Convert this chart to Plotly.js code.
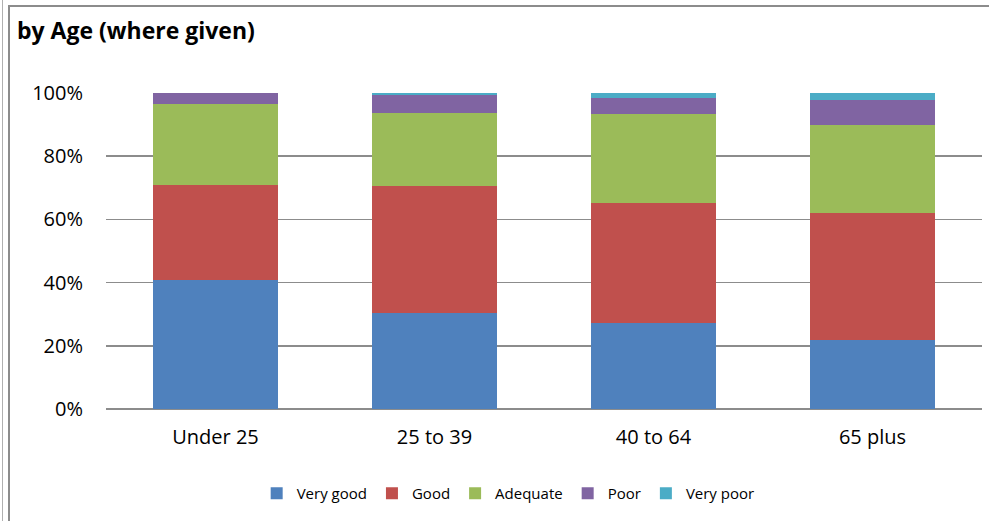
<!DOCTYPE html>
<html>
<head>
<meta charset="utf-8">
<script src="https://cdn.plot.ly/plotly-3.0.1.min.js"></script>
<style>
  html, body { margin: 0; padding: 0; background: #fff; overflow: hidden; }
  #frame { position: absolute; left: 8px; top: 5px; width: 1000px; height: 540px;
           border-left: 2px solid #8c8c8c; border-top: 2px solid #8c8c8c; }
  #edge { position: absolute; left: 2px; top: 0; width: 0; height: 521px; border-left: 1px solid #b0b0b0; }
  #chart { position: absolute; left: 0; top: 0; width: 989px; height: 521px; }
</style>
</head>
<body>
<div id="edge"></div>
<div id="frame"></div>
<div id="chart"></div>
<script>
const ageGroups = ['Under 25', '25 to 39', '40 to 64', '65 plus'];
const veryGood = [40.8, 30.4, 27.2, 21.8];
const good = [30.1, 40.2, 38.0, 40.1];
const adequate = [25.6, 23.2, 28.2, 28.1];
const poor = [3.5, 5.5, 4.9, 7.9];
const veryPoor = [0.0, 0.7, 1.7, 2.1];
const yTicks = [0, 20, 40, 60, 80, 100];

const series = [
  { name: 'Very good', y: veryGood, color: '#4F81BD' },
  { name: 'Good', y: good, color: '#C0504D' },
  { name: 'Adequate', y: adequate, color: '#9BBB59' },
  { name: 'Poor', y: poor, color: '#8064A2' },
  { name: 'Very poor', y: veryPoor, color: '#4BACC6' }
];

const traces = series.map(s => ({
  type: 'bar', name: s.name, x: ageGroups, y: s.y,
  marker: { color: s.color, line: { width: 0 } },
  hoverinfo: 'x+y+name'
}));

const layout = {
  width: 989, height: 521,
  margin: { l: 106, r: 7, t: 93, b: 112 },
  paper_bgcolor: 'rgba(0,0,0,0)', plot_bgcolor: 'rgba(0,0,0,0)',
  barmode: 'stack', bargap: 0.43,
  font: { family: '"Open Sans", sans-serif', color: '#000' },
  title: { text: '<b>by Age (where given)</b>', x: 17 / 989, xref: 'container', xanchor: 'left',
           y: 0.94, yanchor: 'middle', font: { size: 23, family: '"Open Sans", sans-serif', color: '#000' } },
  xaxis: { showgrid: false, showline: false, ticks: '', tickfont: { size: 20 }, ticklabelstandoff: 14 },
  yaxis: { range: [0, 100], tickvals: yTicks, ticktext: yTicks.map(v => v + '%'),
           showgrid: true, gridcolor: '#8c8c8c', gridwidth: 1.5, zeroline: true, zerolinecolor: '#8c8c8c',
           zerolinewidth: 1.5, tickfont: { size: 20 }, ticks: '', ticklabelstandoff: 22 },
  legend: { orientation: 'h', x: 0.172, xanchor: 'left', y: -0.215, yanchor: 'top',
            font: { size: 15 }, traceorder: 'normal', itemwidth: 30 },
  showlegend: true
};

Plotly.newPlot('chart', traces, layout, { displayModeBar: false, staticPlot: true });
</script>
</body>
</html>
